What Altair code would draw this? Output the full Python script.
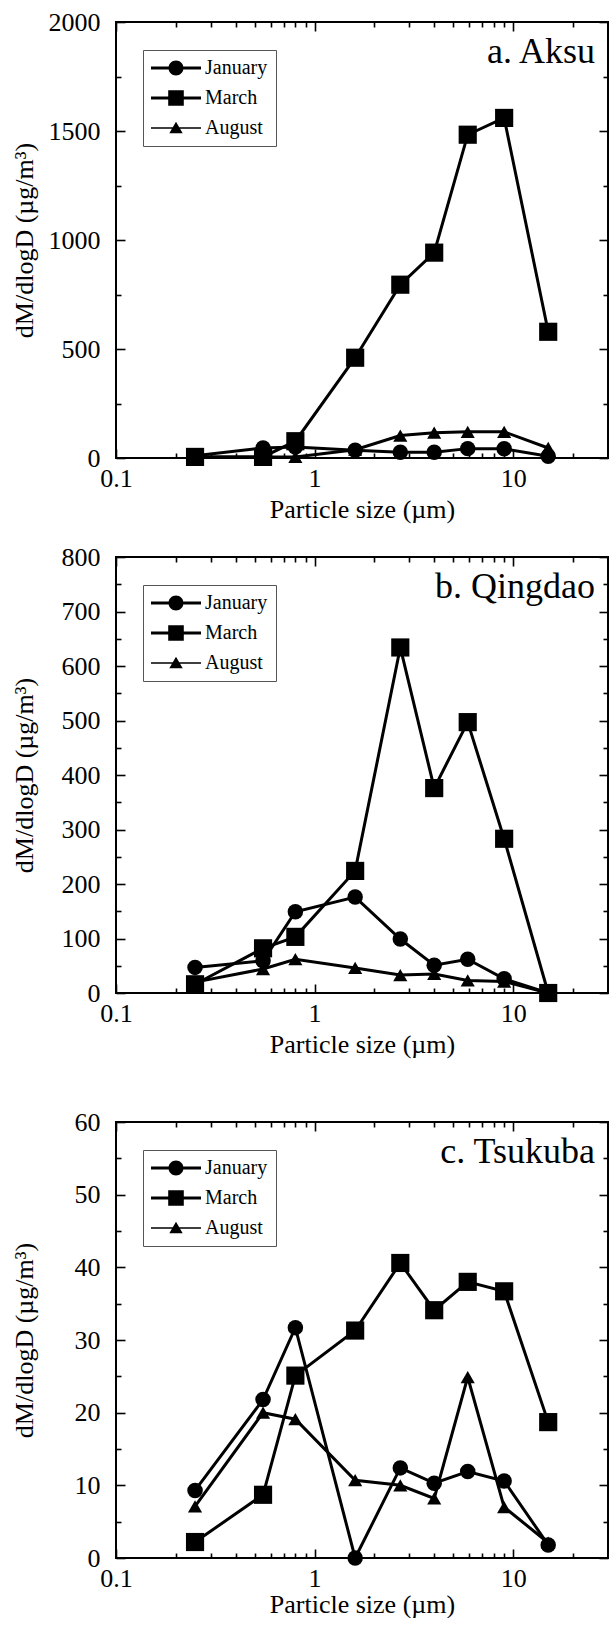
import altair as alt
import pandas as pd

# ---------------- data ----------------
months = ["January", "March", "August"]
sizes = [0.25, 0.55, 0.8, 1.6, 2.7, 4.0, 5.9, 9.0, 15.0]

aksu_jan = [10, 46, 50, 36, 26, 26, 43, 42, 8]
aksu_mar = [5, 5, 77, 460, 795, 942, 1483, 1560, 579]
aksu_aug = [5, 5, 5, 38, 103, 116, 120, 120, 46]

qingdao_jan = [47, 59, 149, 176, 99, 51, 62, 26, 0]
qingdao_mar = [16, 82, 103, 224, 634, 376, 497, 283, 0]
qingdao_aug = [20, 44, 62, 46, 33, 35, 23, 21, 0]

tsukuba_jan = [9.3, 21.8, 31.7, 0, 12.4, 10.3, 11.9, 10.6, 1.8]
tsukuba_mar = [2.2, 8.7, 25.1, 31.3, 40.6, 34.1, 38.0, 36.7, 18.7]
tsukuba_aug = [7.1, 20.0, 19.1, 10.7, 10.0, 8.2, 24.9, 7.0, 2.1]

x_label_values = [0.1, 1, 10]
x_tick_values = [0.1, 0.2, 0.3, 0.4, 0.5, 0.6, 0.7, 0.8, 0.9,
                 1, 2, 3, 4, 5, 6, 7, 8, 9, 10, 20]

FONT = "Liberation Serif"
W, H = 492, 436

# legend symbols: line + marker drawn as one filled path (unit = sqrt(size)/2 px)
P_CIRCLE = ("M-1,-0.14H0.76V0.14H-1Z M2.24,-0.14H4V0.14H2.24Z "
            "M2.25,0A0.75,0.75 0 1,1 0.75,0A0.75,0.75 0 1,1 2.25,0Z")
P_SQUARE = ("M-1,-0.14H4V0.14H-1Z M0.72,-0.78H2.28V0.78H0.72Z")
P_TRI = ("M-1,-0.08H4V0.08H-1Z M1.5,-0.62L2.17,0.52L0.83,0.52Z")


def tick_axis(orient, offset, values, test):
    return alt.Axis(orient=orient, offset=offset, values=values, labels=False,
                    domain=False, grid=False, ticks=True, tickColor="black",
                    tickWidth=1.6,
                    tickSize={"condition": {"test": test, "value": 9}, "value": 5},
                    title=None)


def panel(label, jan, mar, aug, ymax, major, minor, xtitle_pad=5):
    rows = []
    for m, vals in zip(months, [jan, mar, aug]):
        for s, v in zip(sizes, vals):
            rows.append({"size": s, "value": v, "month": m})
    df = pd.DataFrame(rows)

    xs = alt.Scale(type="log", domain=[0.1, 30], nice=False)
    ys = alt.Scale(domain=[0, ymax], nice=False, zero=False)
    y_ticks = list(range(0, ymax + 1, minor))
    y_labels = list(range(0, ymax + 1, major))
    xtest = "datum.value == 0.1 || datum.value == 1 || datum.value == 10"
    ytest = f"datum.value % {major} == 0"

    base = alt.Chart(df)

    lines = base.mark_line(color="black").encode(
        x=alt.X("size:Q", scale=xs, axis=alt.Axis(
            orient="bottom", values=x_label_values, format="~g", ticks=False,
            tickSize=0, domain=False, grid=False, labelFont=FONT,
            labelFontSize=26, labelColor="black", labelPadding=7,
            labelFlush=False, labelOverlap=False,
            title="Particle size (µm)", titleFont=FONT, titleFontSize=26,
            titleFontWeight="normal", titleColor="black",
            titlePadding=xtitle_pad)),
        y=alt.Y("value:Q", scale=ys, axis=alt.Axis(
            orient="left", values=y_labels, format="d", ticks=False,
            tickSize=0, domain=False, grid=False, labelFont=FONT,
            labelFontSize=26, labelColor="black", labelPadding=16,
            labelOverlap=False, labelFlush=False,
            minExtent=70, maxExtent=70,
            title="dM/dlogD (µg/m³)", titleFont=FONT, titleFontSize=26,
            titleFontWeight="normal", titleColor="black", titlePadding=9)),
        detail="month:N",
        strokeWidth=alt.StrokeWidth("month:N", scale=alt.Scale(
            domain=months, range=[3, 3, 1.5]), legend=None),
    )

    def pts(month, shape, size, xaxis, yaxis):
        return base.transform_filter(alt.datum.month == month).mark_point(
            shape=shape, filled=True, color="black", opacity=1, size=size
        ).encode(
            x=alt.X("size:Q", scale=xs, axis=xaxis),
            y=alt.Y("value:Q", scale=ys, axis=yaxis),
        )

    tri = pts("August", "triangle-up", 200,
              tick_axis("top", -H, x_tick_values, xtest),
              tick_axis("right", -W, y_ticks, ytest))
    cir = pts("January", "circle", 240,
              tick_axis("bottom", -H, x_tick_values, xtest),
              tick_axis("left", -W, y_ticks, ytest))
    sq = pts("March", "square", 330, None, None)

    txt = alt.Chart(pd.DataFrame({"t": [label]})).mark_text(
        align="right", baseline="alphabetic", font=FONT, fontSize=36,
        color="black").encode(x=alt.value(W - 13), y=alt.value(41), text="t:N")

    # invisible layer that only carries the legend
    leg = base.mark_point(filled=True, color="black", opacity=0).encode(
        x=alt.X("size:Q", scale=xs, axis=None),
        y=alt.Y("value:Q", scale=ys, axis=None),
        shape=alt.Shape("month:N", scale=alt.Scale(
            domain=months, range=[P_CIRCLE, P_SQUARE, P_TRI]),
            legend=alt.Legend(
                orient="none", legendX=27, legendY=28, title=None,
                padding=8, rowPadding=10, labelFont=FONT, labelFontSize=20,
                labelColor="black", labelOffset=34, symbolSize=400,
                symbolFillColor="black", symbolStrokeWidth=0,
                symbolOpacity=1, strokeColor="#555555", fillColor="white",
                labelLimit=300)),
    )

    return alt.layer(lines, tri, cir, sq, txt, leg).resolve_axis(
        x="independent", y="independent").properties(width=W, height=H)


a = panel("a. Aksu", aksu_jan, aksu_mar, aksu_aug, 2000, 500, 250)
b = panel("b. Qingdao", qingdao_jan, qingdao_mar, qingdao_aug, 800, 100, 50)
c = panel("c. Tsukuba", tsukuba_jan, tsukuba_mar, tsukuba_aug, 60, 10, 5,
          xtitle_pad=0)

top = alt.vconcat(a, b, spacing=20).resolve_scale(
    shape="independent").resolve_legend(shape="independent")

chart = alt.vconcat(top, c, spacing=50).resolve_scale(
    shape="independent").resolve_legend(shape="independent").properties(
    padding={"left": 10, "top": 8, "right": 0, "bottom": 0},
    background="white",
).configure_view(stroke="black", strokeWidth=2)

chart.save("out.html", embed_options={"renderer": "svg", "actions": False})
